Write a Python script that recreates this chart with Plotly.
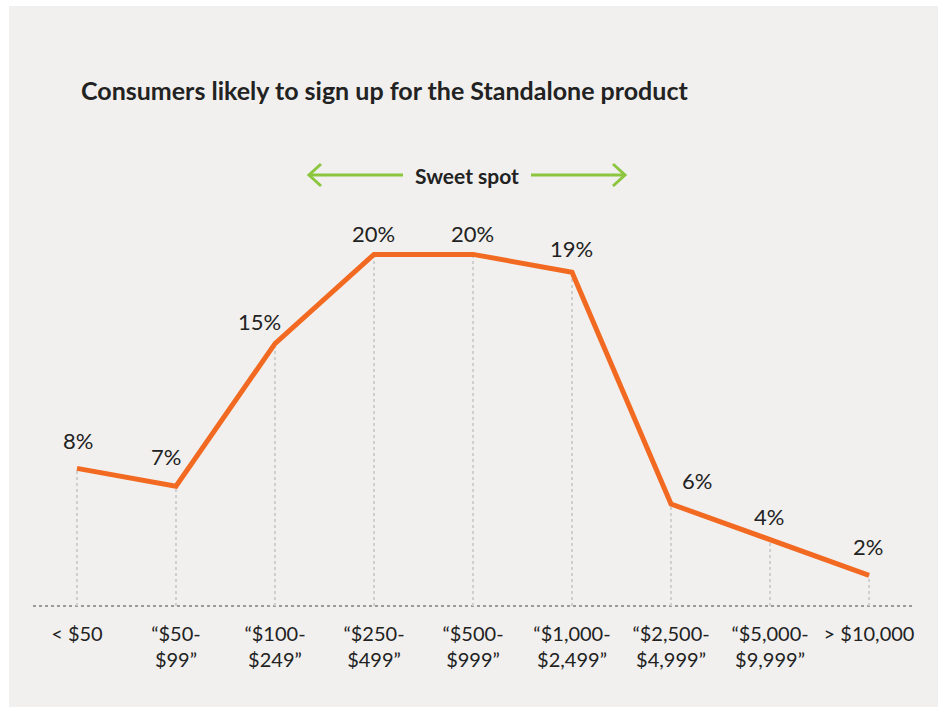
import plotly.graph_objects as go

# Price bands and share of consumers likely to sign up
price_bands = [
    "< $50",
    "“$50-<br>$99”",
    "“$100-<br>$249”",
    "“$250-<br>$499”",
    "“$500-<br>$999”",
    "“$1,000-<br>$2,499”",
    "“$2,500-<br>$4,999”",
    "“$5,000-<br>$9,999”",
    "> $10,000",
]
signup_pct = [8, 7, 15, 20, 20, 19, 6, 4, 2]

# Label nudges (pixels) so the percentages sit clear of the line
label_dx = [1, -10, -15, 0, -1, -1, 26, -1, -1]
label_dy = [28, 30, 22, 21, 21, 24, 24, 23, 29]

W, H = 946, 709
BG = "#f1f0ee"
ORANGE = "#f26a21"
GREEN = "#8cc63f"
TEXT = "#222222"
FONT = "Lato, 'Open Sans', sans-serif"


def px(x):
    return x / W


def py(y):
    return 1 - y / H


x_idx = list(range(len(price_bands)))
y_min, y_max = 0.28, 23.05

fig = go.Figure()

fig.add_trace(go.Scatter(
    x=x_idx, y=signup_pct, mode="lines",
    line=dict(color=ORANGE, width=5),
    hoverinfo="skip", showlegend=False,
))

shapes = [
    # panel background
    dict(type="rect", xref="paper", yref="paper",
         x0=px(9), x1=px(938), y0=py(707), y1=py(6),
         fillcolor=BG, line=dict(width=0), layer="below"),
    # dotted baseline along the bottom of the plot area
    dict(type="line", xref="x domain", yref="y domain",
         x0=0, x1=1, y0=0, y1=0,
         line=dict(color="#9a9a9a", width=2, dash="dot"), layer="below"),
]

# dotted drop lines from each point to the baseline
for xi, v in zip(x_idx, signup_pct):
    shapes.append(dict(type="line", xref="x", yref="y",
                       x0=xi, x1=xi, y0=y_min, y1=v,
                       line=dict(color="#cfcfcf", width=2, dash="dot"),
                       layer="below"))

# "Sweet spot" arrows
ay = 175
shapes += [
    dict(type="line", xref="paper", yref="paper",
         x0=px(309), x1=px(403), y0=py(ay), y1=py(ay),
         line=dict(color=GREEN, width=3)),
    dict(type="path", xref="paper", yref="paper",
         path=f"M {px(321)},{py(ay-11)} L {px(309)},{py(ay)} L {px(321)},{py(ay+11)}",
         line=dict(color=GREEN, width=3)),
    dict(type="line", xref="paper", yref="paper",
         x0=px(531), x1=px(625), y0=py(ay), y1=py(ay),
         line=dict(color=GREEN, width=3)),
    dict(type="path", xref="paper", yref="paper",
         path=f"M {px(613)},{py(ay-11)} L {px(625)},{py(ay)} L {px(613)},{py(ay+11)}",
         line=dict(color=GREEN, width=3)),
]

annotations = [
    dict(text="<b>Consumers likely to sign up for the Standalone product</b>",
         xref="paper", yref="paper", x=px(79), y=py(90),
         xanchor="left", yanchor="middle", showarrow=False,
         font=dict(family=FONT, size=25, color=TEXT)),
    dict(text="<b>Sweet spot</b>",
         xref="paper", yref="paper", x=px(467), y=py(175),
         xanchor="center", yanchor="middle", showarrow=False,
         font=dict(family=FONT, size=21, color=TEXT)),
]

for xi, v, dx, dy in zip(x_idx, signup_pct, label_dx, label_dy):
    annotations.append(dict(
        text=f"{v}%", x=xi, y=v, xref="x", yref="y",
        xanchor="center", yanchor="middle", showarrow=False,
        xshift=dx, yshift=dy,
        font=dict(family=FONT, size=22, color=TEXT)))

fig.update_layout(
    width=W, height=H,
    margin=dict(l=0, r=0, t=0, b=0),
    paper_bgcolor="white", plot_bgcolor="rgba(0,0,0,0)",
    shapes=shapes, annotations=annotations,
    showlegend=False,
    xaxis=dict(
        domain=[px(33), px(913)],
        range=[-0.444, 8.444],
        tickmode="array", tickvals=x_idx, ticktext=price_bands,
        showgrid=False, zeroline=False, showline=False,
        ticks="outside", ticklen=0, ticklabelstandoff=10,
        tickfont=dict(family=FONT, size=20, color=TEXT),
        automargin=False, fixedrange=True,
    ),
    yaxis=dict(
        domain=[py(606), py(200)],
        range=[y_min, y_max],
        visible=False, automargin=False, fixedrange=True,
    ),
)

fig.write_html("out.html")
